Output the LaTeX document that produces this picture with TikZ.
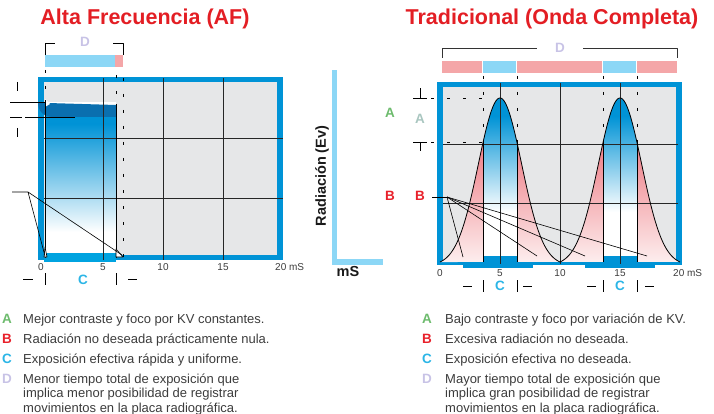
\documentclass[tikz,border=0pt]{standalone}
\usepackage{fontspec}
\setmainfont{Liberation Sans}
\usetikzlibrary{positioning}
\definecolor{afred}{HTML}{E31E24}
\definecolor{afblue}{HTML}{0093D6}
\definecolor{barblue}{HTML}{00A3E0}
\definecolor{bandblue}{HTML}{0A6FAF}
\definecolor{chartgray}{HTML}{E6E7E8}
\definecolor{lightblue}{HTML}{8CD7F6}
\definecolor{pinkbar}{HTML}{F4A6A8}
\definecolor{pinktop}{HTML}{EE7D86}
\definecolor{pinkbottom}{HTML}{FDEEEE}
\definecolor{keygreen}{HTML}{6DBB6D}
\definecolor{keyred}{HTML}{E8202A}
\definecolor{keycyan}{HTML}{2BB5E6}
\definecolor{keylav}{HTML}{C8C3E6}
\definecolor{palegreen}{HTML}{A9C6C0}
\definecolor{txtgray}{HTML}{3C3C3C}
\begin{document}
\begin{tikzpicture}[x=1pt, y=-1pt, line join=round,
  thinline/.style={line width=0.6pt},
  gridline/.style={line width=0.7pt, black!85},
  dotline/.style={line width=0.9pt, dash pattern=on 3pt off 13pt},
  heading/.style={text=afred, font=\fontsize{21.5}{24}\selectfont\bfseries, inner sep=0pt},
  key/.style={font=\fontsize{13.5}{15}\selectfont\bfseries, inner sep=0pt},
  legend/.style={font=\fontsize{13}{14.8}\selectfont, text=txtgray, inner sep=0pt, anchor=base west, align=left},
  ticklabel/.style={font=\fontsize{10}{12}\selectfont, text=txtgray, inner sep=0pt},
  declare function={bell(\q)=(exp(-(\q*\q)/0.2592)-0.021)/0.979;}]
\useasboundingbox (0,0) rectangle (714,414);
\node[heading] (tleft) at (145,19) {Alta Frecuencia (AF)};
\node[heading] (tright) at (552,19) {Tradicional (Onda Completa)};
\fill[afblue] (38,77) rectangle (283,260);
\fill[chartgray] (44,82) rectangle (277,255);
\fill[white] (45,102) rectangle (116,255);
\fill[afblue] (45,114) rectangle (116,124);
\shade[top color=afblue, bottom color=white] (45,124) rectangle (116,232);
\fill[bandblue] (48,103) -- (116,105) -- (116,117) -- (54,117) .. controls (43,117) and (38,111) .. (38,102) -- cycle;
\fill[white] (45,99) -- (50,104) -- (45,107) -- cycle;
\fill[barblue] (44,253) rectangle (116,262);
\foreach \gx in {103,163,223}
  \draw[gridline] (\gx,78) -- (\gx,260);
\foreach \gy in {138,198}
  \draw[gridline] (44,\gy) -- (283,\gy);
\draw[thinline] (45,100) -- (45,258);
\draw[thinline] (116,104) -- (116,258);
\draw[thinline, fill=white] (116,249) -- (123,257) -- (116,257) -- cycle;
\draw[thinline, fill=white] (45,247) -- (47,257) -- (44,257) -- cycle;
\draw[dotline] (45,70) -- (45,100);
\draw[dotline] (116,75) -- (116,104);
\draw[dotline] (123,78) -- (123,257);
\draw[thinline] (45,55) -- (45,43) -- (55,43) (113,43) -- (123,43) -- (123,55);
\node[key, text=keylav] (dleft) at (85,42) {D};
\fill[lightblue] (45,55) rectangle (115,67);
\fill[pinkbar] (115,55) rectangle (123,67);
\draw[thinline] (17,82) -- (17,91) (10,102) -- (45,102)
  (10,117) -- (22,117) (25,117) -- (75,117) (17,128) -- (17,137);
\path (12,192) coordinate (bl0) (28,192) coordinate (bl1)
  (45,256) coordinate (bl2) (122,255) coordinate (bl3);
\draw[thinline] (bl0) -- (bl1) -- (bl2) (bl1) -- (bl3);
\node[ticklabel] (l0) at (41,267) {0};
\node[ticklabel] (l5) at (103,267) {5};
\node[ticklabel] (l10) at (163,267) {10};
\node[ticklabel] (l15) at (223,267) {15};
\node[ticklabel, anchor=west] (l20) at (275,267) {20 mS};
\draw[thinline] (23,279) -- (33,279) (45,273) -- (45,285) (116,273) -- (116,285) (128,279) -- (137,279);
\node[key, text=keycyan] (cleft) at (83,280) {C};
\fill[lightblue] (332,70) rectangle (337,265);
\fill[lightblue] (332,259) rectangle (383,265);
\node[font=\fontsize{14.5}{16}\selectfont\bfseries, rotate=90, text=black!90] (yaxis) at (322,176) {Radiación (Ev)};
\node[font=\fontsize{14.5}{16}\selectfont\bfseries, text=black!90] (xaxis) at (348,272) {mS};
\node[key, text=keygreen] (amid) at (390,113) {A};
\node[key, text=palegreen] (aright) at (420,119) {A};
\node[key, text=keyred] (bmid) at (390,196) {B};
\node[key, text=keyred] (bright) at (420,196) {B};
\fill[afblue] (437,82) rectangle (682,265);
\fill[chartgray] (443,87) rectangle (676,262);
\fill[afblue] (463,264) rectangle (533,268);
\fill[afblue] (585,264) rectangle (655,268);
\begin{scope}
\clip (440,262) -- plot[domain=440:560, samples=121] (\x,{262-164*bell((\x-500)/60)})
  -- plot[domain=560:680, samples=121] (\x,{262-164*bell((\x-620)/60)}) -- cycle;
\fill[pinktop] (440,90) rectangle (680,143);
\shade[top color=pinktop, bottom color=pinkbottom] (440,143) rectangle (680,262);
\foreach \bx in {483,603} {
  \fill[afblue] (\bx,90) rectangle (\bx+34,116);
  \shade[top color=afblue, bottom color=white] (\bx,116) rectangle (\bx+34,212);
  \fill[white] (\bx,212) rectangle (\bx+34,262);
}
\end{scope}
\fill[afblue] (483,256) rectangle (517,265);
\fill[afblue] (603,256) rectangle (637,265);
\foreach \gx in {500,560,620}
  \draw[gridline] (\gx,83) -- (\gx,264);
\foreach \gy in {144,203}
  \draw[gridline] (443,\gy) -- (678,\gy);
\foreach \bx in {483,517,603,637} {
  \draw[thinline] (\bx,143) -- (\bx,262);
  \draw[dotline] (\bx,76) -- (\bx,143);
}
\draw[line width=0.8pt] plot[domain=440:560, samples=121] (\x,{262-164*bell((\x-500)/60)})
  -- plot[domain=560:680, samples=121] (\x,{262-164*bell((\x-620)/60)});
\draw[thinline] (413,98) -- (427,98) (420,98) -- (420,88)
  (413,142) -- (427,142) (420,142) -- (420,151);
\draw[dotline] (431,98) -- (483,98) (431,142) -- (483,142);
\path (432,197) coordinate (br0) (447,197) coordinate (br1)
  (463,257) coordinate (br2) (537,256) coordinate (br3)
  (585,256) coordinate (br4) (647,256) coordinate (br5);
\draw[thinline] (br0) -- (br1);
\foreach \e in {br2,br3,br4,br5}
  \draw[thinline] (br1) -- (\e);
\draw[thinline, black!80] (442,58) -- (442,48) -- (537,48) (583,48) -- (677,48) -- (677,58);
\node[key, text=keylav] (dright) at (560,48) {D};
\fill[pinkbar] (442,61) rectangle (482,73);
\fill[lightblue] (483,61) rectangle (516,73);
\fill[pinkbar] (517,61) rectangle (602,73);
\fill[lightblue] (603,61) rectangle (636,73);
\fill[pinkbar] (637,61) rectangle (677,73);
\node[ticklabel] (r0) at (440,273) {0};
\node[ticklabel] (r5) at (500,273) {5};
\node[ticklabel] (r10) at (560,273) {10};
\node[ticklabel] (r15) at (620,273) {15};
\node[ticklabel, anchor=west] (r20) at (673,273) {20 mS};
\draw[thinline] (463,286) -- (472,286) (483,280) -- (483,292) (517,280) -- (517,292) (523,286) -- (532,286)
  (587,286) -- (596,286) (603,280) -- (603,292) (637,280) -- (637,292) (645,286) -- (654,286);
\node[key, text=keycyan] (cr1) at (500,286) {C};
\node[key, text=keycyan] (cr2) at (620,286) {C};
\node[key, text=keygreen, anchor=base] (ka1) at (7,323) {A};
\node[key, text=keyred, anchor=base] (kb1) at (7,343) {B};
\node[key, text=keycyan, anchor=base] (kc1) at (7,363) {C};
\node[key, text=keylav, anchor=base] (kd1) at (7,383) {D};
\node[legend] (ta1) at (23,323) {Mejor contraste y foco por KV constantes.};
\node[legend] (tb1) at (23,343) {Radiación no deseada prácticamente nula.};
\node[legend] (tc1) at (23,363) {Exposición efectiva rápida y uniforme.};
\node[legend] (td1) at (23,412.6) {Menor tiempo total de exposición que\\implica menor posibilidad de registrar\\movimientos en la placa radiográfica.};
\node[key, text=keygreen, anchor=base] (ka2) at (427,323) {A};
\node[key, text=keyred, anchor=base] (kb2) at (427,343) {B};
\node[key, text=keycyan, anchor=base] (kc2) at (427,363) {C};
\node[key, text=keylav, anchor=base] (kd2) at (427,383) {D};
\node[legend] (ta2) at (445,323) {Bajo contraste y foco por variación de KV.};
\node[legend] (tb2) at (445,343) {Excesiva radiación no deseada.};
\node[legend] (tc2) at (445,363) {Exposición efectiva no deseada.};
\node[legend] (td2) at (445,412.6) {Mayor tiempo total de exposición que\\implica gran posibilidad de registrar\\movimientos en la placa radiográfica.};
\end{tikzpicture}
\end{document}
